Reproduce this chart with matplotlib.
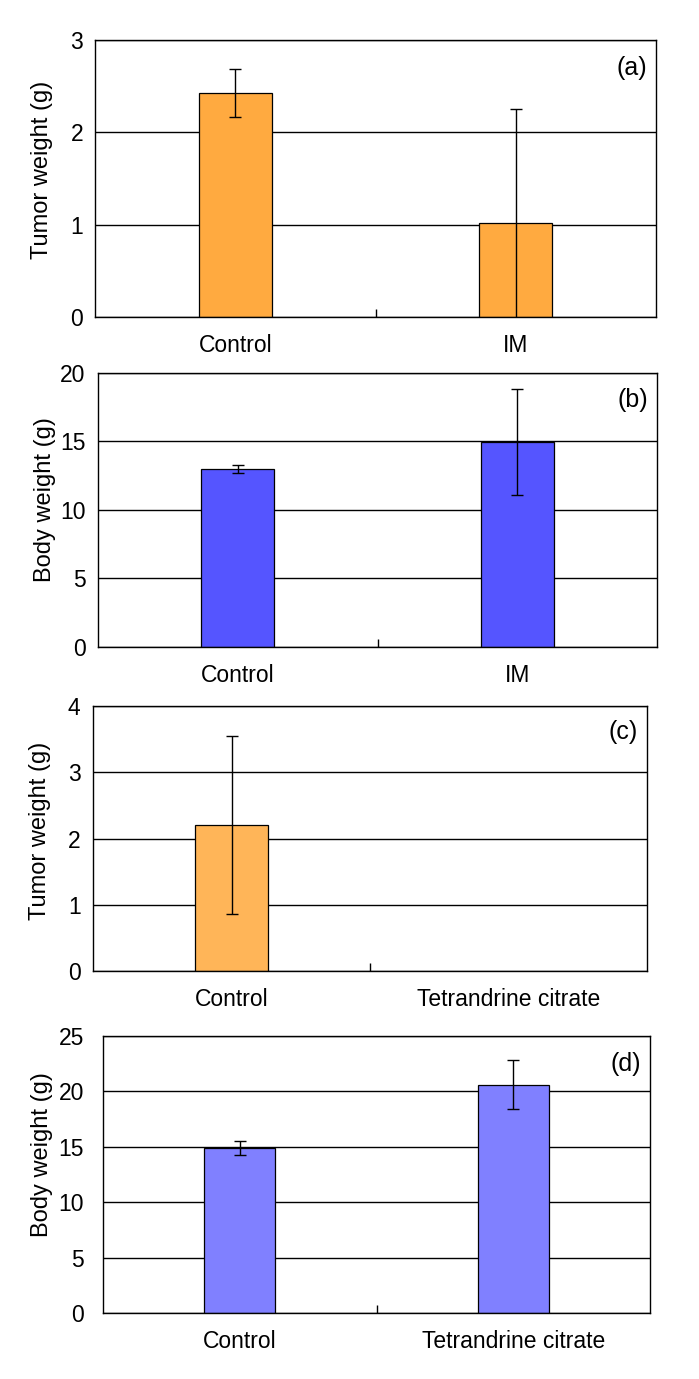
import numpy as np
import matplotlib
matplotlib.use("Agg")
import matplotlib.pyplot as plt

plt.rcParams["font.family"] = ["Liberation Sans", "DejaVu Sans"]

# (a) tumor weight, IM experiment
groups_ab = ["Control", "IM"]
tumor_a = [2.43, 1.02]
tumor_a_err = [0.26, 1.23]

# (b) body weight, IM experiment
body_b = [13.0, 14.95]
body_b_err = [0.3, 3.85]

# (c) tumor weight, tetrandrine experiment (no tumor in treated group)
groups_cd = ["Control", "Tetrandrine citrate"]
tumor_c = [2.2, np.nan]
tumor_c_err = [1.34, np.nan]

# (d) body weight, tetrandrine experiment
body_d = [14.9, 20.6]
body_d_err = [0.6, 2.2]

W, H = 699, 1379
fig = plt.figure(figsize=(W / 100, H / 100), dpi=100)


def panel(box, labels, vals, errs, color, ymax, ystep, ylabel, lab_xy, ypad, tag):
    l, t, r, b = box
    ax = fig.add_axes([l / W, 1 - b / H, (r - l) / W, (b - t) / H])
    x = np.arange(len(labels))
    ax.bar(x, vals, width=0.26, color=color, edgecolor="black", linewidth=0.9, zorder=2)
    ax.errorbar(x, vals, yerr=errs, fmt="none", ecolor="black", elinewidth=1.0,
                capsize=4, capthick=1.0, zorder=3)
    ax.set_xlim(-0.5, len(labels) - 0.5)
    ax.set_ylim(0, ymax)
    ax.set_yticks(np.arange(0, ymax + ystep / 2, ystep))
    ax.yaxis.grid(True, color="black", linewidth=1.0)
    ax.set_axisbelow(True)
    ax.set_xticks(x)
    ax.set_xticklabels(labels, fontsize=16.5)
    ax.set_xticks([0.5], minor=True)
    ax.tick_params(axis="x", which="major", length=0, pad=12)
    ax.tick_params(axis="x", which="minor", direction="in", length=6, width=1.0)
    ax.tick_params(axis="y", length=0, pad=ypad, labelsize=16.5)
    for s in ax.spines.values():
        s.set_linewidth(1.0)
    fig.text(lab_xy[0] / W, 1 - lab_xy[1] / H, ylabel, rotation=90,
             ha="center", va="center", fontsize=17)
    ax.text(0.984, 0.90, tag, transform=ax.transAxes, ha="right", va="center", fontsize=18)
    return ax


panel((95, 40, 656, 317), groups_ab, tumor_a, tumor_a_err, "#FFAA40", 3, 1,
      "Tumor weight (g)", (42, 170), 8.5, "(a)")
panel((98, 373, 657, 647), groups_ab, body_b, body_b_err, "#5555FF", 20, 5,
      "Body weight (g)", (45, 500), 9, "(b)")
panel((93, 706, 647, 971), groups_cd, tumor_c, tumor_c_err, "#FFB558", 4, 1,
      "Tumor weight (g)", (40, 831), 9, "(c)")
panel((103, 1036, 650, 1313), groups_cd, body_d, body_d_err, "#8080FF", 25, 5,
      "Body weight (g)", (42, 1155), 13.5, "(d)")

fig.savefig("out.png", dpi=100)
